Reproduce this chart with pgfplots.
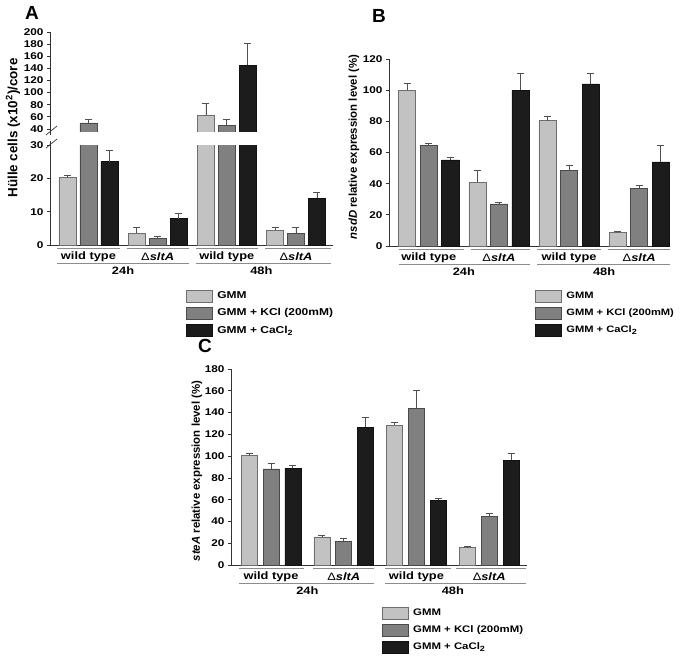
\documentclass[border=0pt]{standalone}
\usepackage{pgfplots}
\pgfplotsset{compat=1.18}
\usepackage{pgfplotstable}
\usepackage{fontspec}
\setmainfont{Liberation Sans}[FakeStretch=1.2]
\newfontfamily\yfont{Liberation Sans}

\definecolor{cL}{HTML}{C2C2C2}\definecolor{cLb}{HTML}{6E6E6E}
\definecolor{cM}{HTML}{808080}\definecolor{cMb}{HTML}{4A4A4A}
\definecolor{cD}{HTML}{1C1C1C}\definecolor{cDb}{HTML}{111111}
\definecolor{axc}{HTML}{333333}
\definecolor{grp}{HTML}{8C8C8C}
\definecolor{errc}{HTML}{505050}

\newcommand{\dsl}{{\mdseries Δ}\textit{sltA}}
\newcommand{\tickfont}{\fontsize{9.8}{10}\selectfont\bfseries}
\newcommand{\grpfont}{\fontsize{10.7}{11}\selectfont\bfseries}
\newcommand{\ylfont}{\yfont\fontsize{11.4}{12}\selectfont\bfseries}
\newcommand{\sub}{\raisebox{-0.4ex}{\fontsize{7.5}{8}\selectfont 2}}

\pgfplotsset{
  panel/.style={scale only axis, axis x line*=bottom, axis y line*=left,
    axis line style={axc, line width=0.7pt}, xtick=\empty, tick align=outside,
    major tick length=3pt, ytick style={axc, line width=0.7pt},
    /pgf/number format/assume math mode=true, tick label style={font=\tickfont},
    ybar, clip mode=individual, legend cell align=left,
    legend style={draw=none, fill=none, inner sep=0pt,
      nodes={inner sep=1.5pt}, row sep=4.5pt}},
  lbox/.style={legend image code/.code={\draw[##1] (0pt,-6pt) rectangle (26pt,6pt); \path (29.5pt,0pt);}},
  sL/.style={fill=cL, draw=cLb, line width=0.6pt, bar shift=-#1, lbox},
  sM/.style={fill=cM, draw=cMb, line width=0.6pt, bar shift=0, lbox},
  sD/.style={fill=cD, draw=cDb, line width=0.6pt, bar shift=#1, lbox},
  eb/.style={error bars/.cd, y dir=plus, y explicit,
    error bar style={errc, line width=0.7pt},
    error mark options={rotate=90, errc, mark size=3.5pt, line width=0.7pt}},
}

\pgfplotstableread{
x gmm egmm kcl ekcl ca eca
0 20.2 0.8 50 6.5 25 3.3
1 3.5 1.7 2.0 0.6 7.9 1.5
2 63.3 19.5 46.5 9 145.6 35.4
3 4.5 0.9 3.5 1.7 14 1.7
}\dataA
\pgfplotstableread{
x gmm egmm kcl ekcl ca eca
0 100 4.3 64.7 1.3 55.3 1.7
1 41 7.5 27 1 100 10.5
2 80.5 2.5 48.5 3 104 7
3 8.5 1 37 2 54 10.5
}\dataB
\pgfplotstableread{
x gmm egmm kcl ekcl ca eca
0 100.4 2.4 88.2 5.5 89 2.8
1 25.9 0.9 21.7 2.4 126.6 9.2
2 128.4 2.8 143.7 16.5 59.5 1.8
3 15.9 1.5 44.5 2.5 96.1 6.7
}\dataC

\begin{document}
\begin{tikzpicture}
\useasboundingbox (0pt,0pt) rectangle (683pt,-661pt);

% ---------- Panel A (lower part) ----------
\begin{axis}[panel, at={(50pt,-245pt)}, anchor=south west, width=283pt, height=100pt,
  xmin=-0.556, xmax=3.535, ymin=0, ymax=30, ytick={0,10,20,30}, bar width=0.246,
  legend style={at={(0.479,-0.445)}, anchor=north west, font=\fontsize{10}{11}\selectfont\bfseries}]
\addplot[sL=0.303, eb] table[x=x, y=gmm, y error=egmm] {\dataA};
\addlegendentry{GMM}
\addplot[sM, eb] table[x=x, y=kcl, y error=ekcl] {\dataA};
\addlegendentry{GMM + KCl (200mM)}
\addplot[sD=0.303, eb] table[x=x, y=ca, y error=eca] {\dataA};
\addlegendentry{GMM + CaCl\sub}
\draw[grp, line width=0.8pt] ([yshift=-3pt]axis cs:-0.45,0) -- ([yshift=-3pt]axis cs:0.45,0);
\draw[grp, line width=0.8pt] ([yshift=-3pt]axis cs:0.55,0) -- ([yshift=-3pt]axis cs:1.45,0);
\draw[grp, line width=0.8pt] ([yshift=-3pt]axis cs:1.55,0) -- ([yshift=-3pt]axis cs:2.45,0);
\draw[grp, line width=0.8pt] ([yshift=-3pt]axis cs:2.55,0) -- ([yshift=-3pt]axis cs:3.5,0);
\draw[grp, line width=0.8pt] ([yshift=-18pt]axis cs:-0.45,0) -- ([yshift=-18pt]axis cs:1.45,0);
\draw[grp, line width=0.8pt] ([yshift=-18pt]axis cs:1.55,0) -- ([yshift=-18pt]axis cs:3.5,0);
\node[font=\grpfont] at ([yshift=-12pt]axis cs:0,0) {wild type};
\node[font=\grpfont] at ([yshift=-12pt]axis cs:1,0) {\dsl};
\node[font=\grpfont] at ([yshift=-12pt]axis cs:2,0) {wild type};
\node[font=\grpfont] at ([yshift=-12pt]axis cs:3,0) {\dsl};
\node[font=\grpfont] at ([yshift=-26pt]axis cs:0.5,0) {24h};
\node[font=\grpfont] at ([yshift=-26pt]axis cs:2.5,0) {48h};
\end{axis}

% ---------- Panel A (upper part) ----------
\begin{axis}[panel, at={(50pt,-132pt)}, anchor=south west, width=283pt, height=100pt,
  xmin=-0.556, xmax=3.535, ymin=35, ymax=200, ytick={40,60,...,200}, bar width=0.246,
  hide x axis, restrict y to domain=36:400]
\addplot[sL=0.303, eb] table[x=x, y=gmm, y error=egmm] {\dataA};
\addplot[sM, eb] table[x=x, y=kcl, y error=ekcl] {\dataA};
\addplot[sD=0.303, eb] table[x=x, y=ca, y error=eca] {\dataA};
\end{axis}

% break marks
\draw[axc, line width=0.7pt] (50pt,-145pt) -- (50pt,-141pt);
\draw[axc, line width=0.7pt] (50pt,-132pt) -- (50pt,-135pt);
\draw[axc, line width=0.7pt] (46pt,-148pt) -- (57pt,-139pt);
\draw[axc, line width=0.7pt] (46pt,-135pt) -- (57pt,-126pt);

% ---------- Panel B ----------
\begin{axis}[panel, at={(389pt,-246pt)}, anchor=south west, width=281pt, height=187pt,
  xmin=-0.567, xmax=3.44, ymin=0, ymax=120, ytick={0,20,...,120}, bar width=0.243,
  legend style={at={(0.518,-0.233)}, anchor=north west, font=\fontsize{9.3}{11}\selectfont\bfseries}]
\addplot[sL=0.307, eb] table[x=x, y=gmm, y error=egmm] {\dataB};
\addlegendentry{GMM}
\addplot[sM, eb] table[x=x, y=kcl, y error=ekcl] {\dataB};
\addlegendentry{GMM + KCl (200mM)}
\addplot[sD=0.307, eb] table[x=x, y=ca, y error=eca] {\dataB};
\addlegendentry{GMM + CaCl\sub}
\draw[grp, line width=0.8pt] ([yshift=-3pt]axis cs:-0.43,0) -- ([yshift=-3pt]axis cs:0.5,0);
\draw[grp, line width=0.8pt] ([yshift=-3pt]axis cs:0.6,0) -- ([yshift=-3pt]axis cs:1.45,0);
\draw[grp, line width=0.8pt] ([yshift=-3pt]axis cs:1.55,0) -- ([yshift=-3pt]axis cs:2.45,0);
\draw[grp, line width=0.8pt] ([yshift=-3pt]axis cs:2.55,0) -- ([yshift=-3pt]axis cs:3.44,0);
\draw[grp, line width=0.8pt] ([yshift=-18pt]axis cs:-0.43,0) -- ([yshift=-18pt]axis cs:1.45,0);
\draw[grp, line width=0.8pt] ([yshift=-18pt]axis cs:1.55,0) -- ([yshift=-18pt]axis cs:3.44,0);
\node[font=\grpfont] at ([yshift=-12pt]axis cs:0,0) {wild type};
\node[font=\grpfont] at ([yshift=-12pt]axis cs:1,0) {\dsl};
\node[font=\grpfont] at ([yshift=-12pt]axis cs:2,0) {wild type};
\node[font=\grpfont] at ([yshift=-12pt]axis cs:3,0) {\dsl};
\node[font=\grpfont] at ([yshift=-26pt]axis cs:0.5,0) {24h};
\node[font=\grpfont] at ([yshift=-26pt]axis cs:2.5,0) {48h};
\end{axis}

% ---------- Panel C ----------
\begin{axis}[panel, at={(231pt,-565pt)}, anchor=south west, width=296pt, height=196pt,
  xmin=-0.55, xmax=3.52, ymin=0, ymax=180, ytick={0,20,...,180}, bar width=0.22,
  legend style={at={(0.508,-0.212)}, anchor=north west, font=\fontsize{9.5}{11}\selectfont\bfseries}]
\addplot[sL=0.3, eb] table[x=x, y=gmm, y error=egmm] {\dataC};
\addlegendentry{GMM}
\addplot[sM, eb] table[x=x, y=kcl, y error=ekcl] {\dataC};
\addlegendentry{GMM + KCl (200mM)}
\addplot[sD=0.3, eb] table[x=x, y=ca, y error=eca] {\dataC};
\addlegendentry{GMM + CaCl\sub}
\draw[grp, line width=0.8pt] ([yshift=-3pt]axis cs:-0.44,0) -- ([yshift=-3pt]axis cs:0.46,0);
\draw[grp, line width=0.8pt] ([yshift=-3pt]axis cs:0.58,0) -- ([yshift=-3pt]axis cs:1.42,0);
\draw[grp, line width=0.8pt] ([yshift=-3pt]axis cs:1.57,0) -- ([yshift=-3pt]axis cs:2.48,0);
\draw[grp, line width=0.8pt] ([yshift=-3pt]axis cs:2.55,0) -- ([yshift=-3pt]axis cs:3.5,0);
\draw[grp, line width=0.8pt] ([yshift=-18pt]axis cs:-0.44,0) -- ([yshift=-18pt]axis cs:1.42,0);
\draw[grp, line width=0.8pt] ([yshift=-18pt]axis cs:1.57,0) -- ([yshift=-18pt]axis cs:3.5,0);
\node[font=\grpfont] at ([yshift=-11.5pt]axis cs:0,0) {wild type};
\node[font=\grpfont] at ([yshift=-11.5pt]axis cs:1,0) {\dsl};
\node[font=\grpfont] at ([yshift=-11.5pt]axis cs:2,0) {wild type};
\node[font=\grpfont] at ([yshift=-11.5pt]axis cs:3,0) {\dsl};
\node[font=\grpfont] at ([yshift=-26pt]axis cs:0.5,0) {24h};
\node[font=\grpfont] at ([yshift=-26pt]axis cs:2.5,0) {48h};
\end{axis}

% panel letters and y labels
\node[font=\yfont\bfseries\fontsize{19}{20}\selectfont] at (32pt,-13pt) {A};
\node[font=\yfont\bfseries\fontsize{19}{20}\selectfont] at (379pt,-16pt) {B};
\node[font=\yfont\bfseries\fontsize{19}{20}\selectfont] at (205pt,-346pt) {C};
\node[rotate=90, font=\yfont\bfseries\fontsize{13.4}{14}\selectfont] at (13pt,-128pt) {Hülle cells (x10\textsuperscript{2})/core};
\node[rotate=90, font=\ylfont] at (354pt,-147pt) {\textit{nsdD} relative expression level (\%)};
\node[rotate=90, font=\ylfont] at (197pt,-471pt) {\textit{steA} relative expression level (\%)};
\end{tikzpicture}
\end{document}
